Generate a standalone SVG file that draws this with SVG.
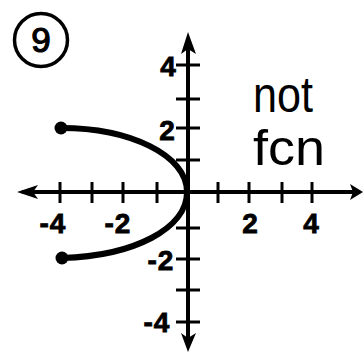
<svg xmlns="http://www.w3.org/2000/svg" width="364" height="353" viewBox="0 0 364 353">
<style>
.ax{stroke:#000;stroke-width:4;fill:none}
.tk{stroke:#000;stroke-width:3;fill:none}
.lbl{font-family:"Liberation Sans",Arial,sans-serif;font-weight:bold;font-size:28px;fill:#000;stroke:#000;stroke-width:0.8;text-anchor:middle}
.hand{font-family:"Liberation Sans",Arial,sans-serif;font-size:50px;fill:#000}
.crv{stroke:#000;stroke-width:6;fill:none;stroke-linecap:round}
</style>
<rect width="364" height="353" fill="#fff"/>
<g id="badge">
<circle cx="41" cy="40" r="26.5" fill="none" stroke="#000" stroke-width="3.5"/>
<text x="41" y="52" font-family="'Liberation Sans',Arial,sans-serif" font-size="35" stroke="#000" stroke-width="1.2" text-anchor="middle">9</text>
</g>
<g id="axes">
<line class="ax" x1="22" y1="192" x2="356" y2="192"/>
<line class="ax" x1="188" y1="40" x2="188" y2="344"/>
<polygon points="17,192 38,185 33,192 38,199" fill="#000"/>
<polygon points="363,192 350,184 353,192 350,200" fill="#000"/>
<polygon points="188,32 181,54 188,49 196,54" fill="#000"/>
<polygon points="188,352 181,333 188,338 196,333" fill="#000"/>
<g class="tk">
<line x1="60" y1="182" x2="60" y2="203"/>
<line x1="92" y1="182" x2="92" y2="203"/>
<line x1="123" y1="182" x2="123" y2="203"/>
<line x1="157" y1="182" x2="157" y2="203"/>
<line x1="218" y1="182" x2="218" y2="203"/>
<line x1="249" y1="182" x2="249" y2="203"/>
<line x1="282" y1="182" x2="282" y2="203"/>
<line x1="312" y1="182" x2="312" y2="203"/>
<line x1="176" y1="65" x2="200" y2="65"/>
<line x1="176" y1="99" x2="200" y2="99"/>
<line x1="176" y1="128" x2="200" y2="128"/>
<line x1="176" y1="160" x2="200" y2="160"/>
<line x1="176" y1="228" x2="200" y2="228"/>
<line x1="176" y1="259" x2="200" y2="259"/>
<line x1="176" y1="290" x2="200" y2="290"/>
<line x1="176" y1="322" x2="200" y2="322"/>
</g>
</g>
<g id="labels">
<text class="lbl" x="53" y="233" letter-spacing="1">-4</text>
<text class="lbl" x="118" y="233" letter-spacing="1">-2</text>
<text class="lbl" x="250" y="233">2</text>
<text class="lbl" x="311" y="233">4</text>
<text class="lbl" x="168" y="76">4</text>
<text class="lbl" x="167" y="140">2</text>
<text class="lbl" x="161" y="270" letter-spacing="1">-2</text>
<text class="lbl" x="157" y="332" letter-spacing="1">-4</text>
</g>
<g id="relation">
<path class="crv" d="M61,128 C130,128 187,155 187,192 C187,228 135,256 62,258"/>
<circle cx="61" cy="128" r="6.5" fill="#000"/>
<circle cx="62" cy="258" r="6.5" fill="#000"/>
</g>
<g id="note">
<text class="hand" x="253" y="112" textLength="60" lengthAdjust="spacingAndGlyphs">not</text>
<text class="hand" x="253" y="165" textLength="72" lengthAdjust="spacingAndGlyphs">fcn</text>
</g>
</svg>
